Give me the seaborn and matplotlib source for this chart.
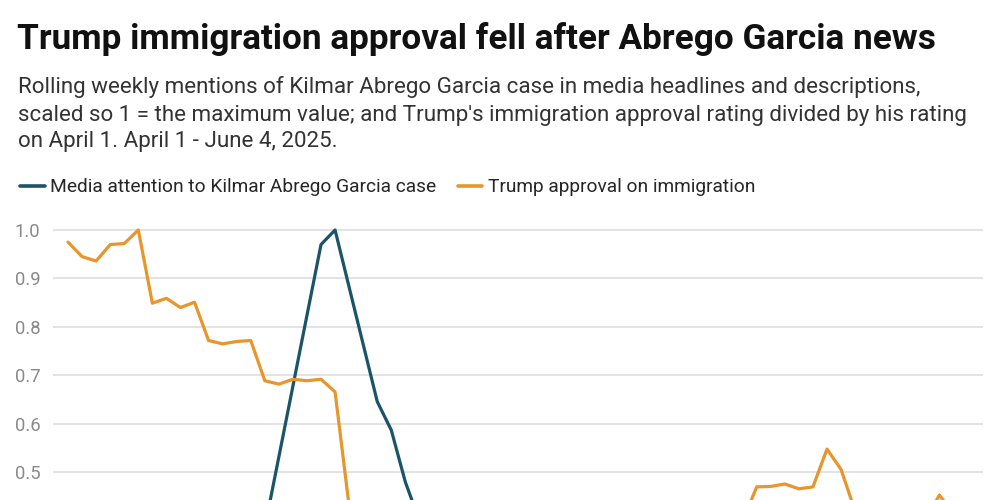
import pandas as pd
import matplotlib
matplotlib.use("Agg")
import matplotlib.pyplot as plt
import seaborn as sns

# April 1 - June 4, 2025, one point per day
dates = pd.date_range("2025-04-01", "2025-06-04", freq="D")

# Media attention to Kilmar Abrego Garcia case (scaled, 1 = max)
media = [
    0.02, 0.03, 0.05, 0.06, 0.08, 0.10, 0.12, 0.15, 0.19, 0.22,
    0.25, 0.28, 0.31, 0.34, 0.386, 0.532, 0.678, 0.824, 0.970, 1.000,
    0.882, 0.764, 0.646, 0.587, 0.480, 0.400, 0.340, 0.300, 0.270, 0.250,
    0.230, 0.210, 0.200, 0.190, 0.180, 0.170, 0.160, 0.150, 0.150, 0.140,
    0.140, 0.130, 0.130, 0.120, 0.120, 0.110, 0.110, 0.100, 0.100, 0.100,
    0.090, 0.090, 0.090, 0.080, 0.080, 0.080, 0.070, 0.070, 0.070, 0.060,
    0.060, 0.060, 0.050, 0.050, 0.050,
]

# Trump approval on immigration, relative to April 1
approval = [
    0.975, 0.945, 0.936, 0.970, 0.972, 1.000, 0.849, 0.859, 0.840, 0.851,
    0.772, 0.765, 0.770, 0.772, 0.689, 0.682, 0.692, 0.689, 0.692, 0.666,
    0.430, 0.410, 0.400, 0.405, 0.395, 0.390, 0.400, 0.410, 0.400, 0.395,
    0.390, 0.385, 0.395, 0.400, 0.405, 0.400, 0.395, 0.390, 0.395, 0.400,
    0.405, 0.400, 0.395, 0.390, 0.385, 0.390, 0.395, 0.400, 0.400, 0.470,
    0.471, 0.476, 0.466, 0.470, 0.548, 0.506, 0.420, 0.410, 0.405, 0.400,
    0.410, 0.405, 0.453, 0.415, 0.410,
]

series_names = ["Media attention to Kilmar Abrego Garcia case",
                "Trump approval on immigration"]
colors = ["#1b5469", "#e8952b"]
# only the upper ticks fall inside the picture
y_ticks = [0.5, 0.6, 0.7, 0.8, 0.9, 1.0]

title = "Trump immigration approval fell after Abrego Garcia news"
subtitle_lines = [
    "Rolling weekly mentions of Kilmar Abrego Garcia case in media headlines and descriptions,",
    "scaled so 1 = the maximum value; and Trump's immigration approval rating divided by his rating",
    "on April 1. April 1 - June 4, 2025.",
]

df = pd.DataFrame({"date": list(dates) * 2,
                   "value": media + approval,
                   "series": [series_names[0]] * len(dates) + [series_names[1]] * len(dates)})

sns.set_theme(style="white")
plt.rcParams["font.family"] = ["Roboto", "DejaVu Sans"]

fig = plt.figure(figsize=(10, 5), dpi=100)
# axes runs past the bottom edge so only the top half of the chart shows
ax = fig.add_axes([0.053, -0.4294, 0.930, 0.9985])

sns.lineplot(data=df, x="date", y="value", hue="series", palette=colors,
             linewidth=2.3, ax=ax, legend=False)

day = pd.Timedelta(days=1)
ax.set_xlim(dates[0] - 1.07 * day, dates[-1] + 1.1 * day)
ax.set_ylim(0, 1.03)
ax.set_yticks(y_ticks)
ax.set_yticklabels([f"{t:.1f}" for t in y_ticks], color="#8a8a8a", fontsize=13.3)
ax.tick_params(axis="y", length=0, pad=9)
ax.set_xticks([])
ax.set_xlabel("")
ax.set_ylabel("")
ax.grid(axis="y", color="#e1e1e1", linewidth=1.3)
ax.set_axisbelow(True)
for s in ax.spines.values():
    s.set_visible(False)

fig.text(0.017, 1 - 49.5 / 500, title, fontsize=25.3, fontweight="bold",
         color="#111111", va="baseline")
for i, line in enumerate(subtitle_lines):
    fig.text(0.018, 1 - (93.5 + 27 * i) / 500, line, fontsize=16.1,
             color="#333333", va="baseline")

handles = [plt.Line2D([], [], color=c, linewidth=2.6) for c in colors]
fig.legend(handles, series_names, loc="center left", bbox_to_anchor=(0.012, 0.625),
           ncol=2, frameon=False, fontsize=13.8, handlelength=1.3, handletextpad=0.3,
           columnspacing=1.1, borderaxespad=0)

fig.savefig("out.png", dpi=100)
